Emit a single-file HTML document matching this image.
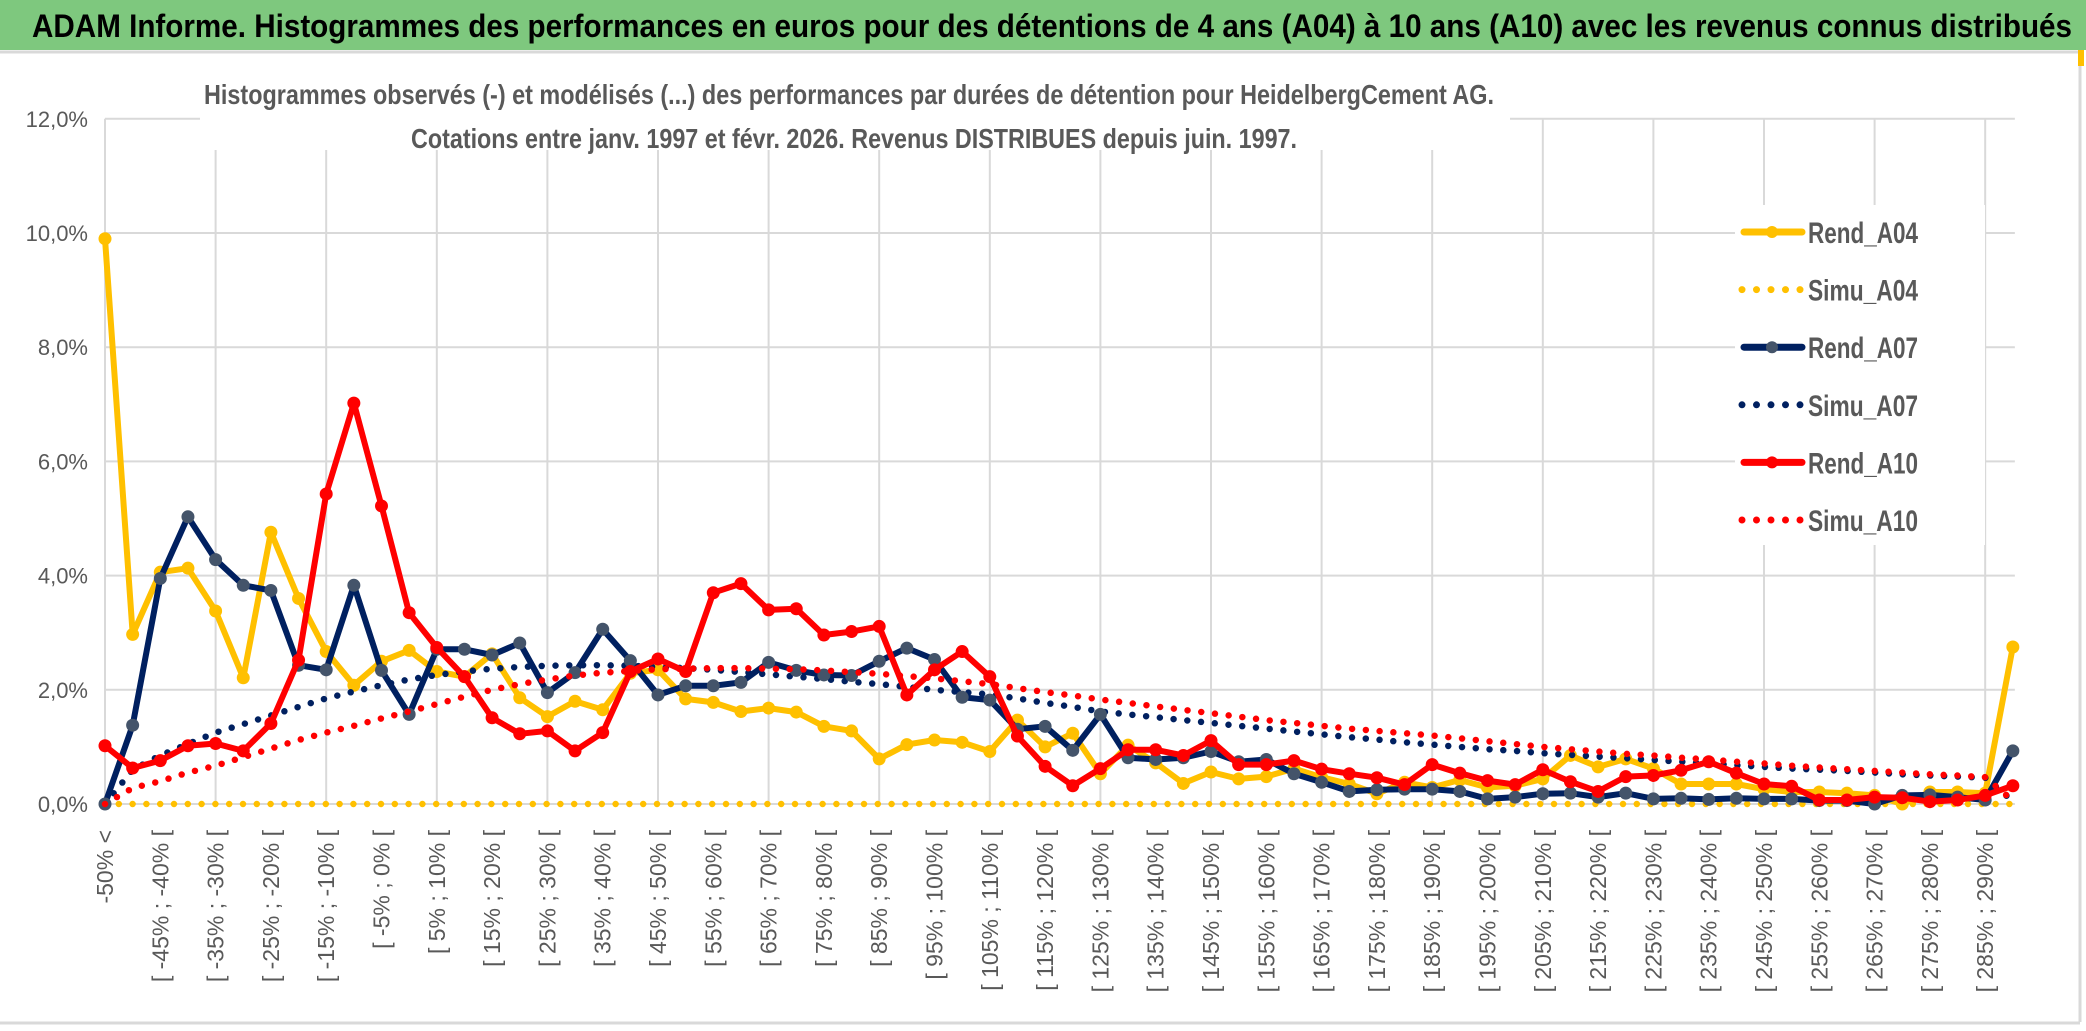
<!DOCTYPE html>
<html><head><meta charset="utf-8">
<style>
html,body{margin:0;padding:0;background:#fff;}
svg{display:block;}
text{font-family:"Liberation Sans Narrow","Liberation Sans",sans-serif;}
</style></head>
<body>
<svg id="chart" width="2086" height="1031" viewBox="0 0 2086 1031" xmlns="http://www.w3.org/2000/svg">
  <rect x="0" y="0" width="2086" height="1031" fill="#fff"/>
  <rect x="0" y="0" width="2086" height="50" fill="#7ec87e"/>
  <text x="32" y="37" font-size="32" font-weight="bold" fill="#000" textLength="2040" lengthAdjust="spacingAndGlyphs">ADAM Informe. Histogrammes des performances en euros pour des détentions de 4 ans (A04) à 10 ans (A10) avec les revenus connus distribués</text>
  <line x1="0" y1="52" x2="2080" y2="52" stroke="#d9d9d9" stroke-width="3"/>
  <line x1="2080" y1="52" x2="2080" y2="1022" stroke="#d9d9d9" stroke-width="3"/>
  <line x1="0" y1="1023" x2="2080" y2="1023" stroke="#d9d9d9" stroke-width="3"/>
  <rect x="2078" y="50" width="6" height="16" fill="#ffc000"/>
  <g id="grid"></g>
  <g id="series"></g>
  <g id="axes"></g>
  <rect x="200" y="58" width="1310" height="92" fill="#fff"/>
  <text x="204" y="104" font-size="28" font-weight="bold" fill="#595959" textLength="1290" lengthAdjust="spacingAndGlyphs">Histogrammes observés (-) et modélisés (...) des performances par durées de détention pour HeidelbergCement AG.</text>
  <text x="411" y="148" font-size="28" font-weight="bold" fill="#595959" textLength="886" lengthAdjust="spacingAndGlyphs">Cotations entre janv. 1997 et févr. 2026. Revenus DISTRIBUES depuis juin. 1997.</text>
  <g id="legend"></g>
</svg>
<script>
const categories = (function(){ const c=["-50% <"]; for(let k=0;k<69;k++){ const a=-50+5*k; c.push("[ "+a+"% ; "+(a+5)+"% ["); } return c; })();
const yTicks = [0,2,4,6,8,10,12];
const yTickLabels = ["0,0%","2,0%","4,0%","6,0%","8,0%","10,0%","12,0%"];
const rendA04 = [9.9,2.97,4.06,4.13,3.38,2.21,4.76,3.6,2.67,2.08,2.5,2.69,2.32,2.23,2.63,1.86,1.53,1.8,1.65,2.29,2.35,1.84,1.78,1.62,1.68,1.61,1.36,1.28,0.79,1.04,1.12,1.08,0.92,1.47,1.0,1.24,0.53,1.03,0.72,0.36,0.56,0.44,0.48,0.62,0.47,0.35,0.18,0.38,0.29,0.42,0.29,0.32,0.44,0.85,0.65,0.79,0.62,0.35,0.35,0.35,0.26,0.21,0.21,0.19,0.15,0.0,0.21,0.21,0.19,2.75];
const rendA07 = [0,1.38,3.95,5.03,4.28,3.83,3.74,2.43,2.35,3.83,2.34,1.57,2.71,2.71,2.61,2.82,1.95,2.3,3.06,2.51,1.91,2.07,2.07,2.13,2.48,2.34,2.26,2.25,2.5,2.73,2.53,1.87,1.82,1.31,1.36,0.94,1.57,0.81,0.78,0.81,0.92,0.74,0.78,0.53,0.38,0.22,0.25,0.26,0.26,0.22,0.09,0.12,0.18,0.19,0.12,0.19,0.09,0.1,0.08,0.1,0.09,0.09,0.06,0.06,0.0,0.15,0.16,0.12,0.07,0.93];
const rendA10 = [1.02,0.63,0.76,1.02,1.06,0.93,1.41,2.52,5.43,7.02,5.22,3.35,2.74,2.23,1.51,1.23,1.28,0.93,1.25,2.32,2.54,2.32,3.7,3.86,3.4,3.42,2.96,3.02,3.11,1.91,2.35,2.67,2.23,1.19,0.66,0.32,0.62,0.95,0.95,0.85,1.11,0.69,0.69,0.76,0.61,0.53,0.46,0.34,0.69,0.54,0.41,0.34,0.6,0.39,0.22,0.48,0.5,0.59,0.74,0.54,0.35,0.31,0.07,0.07,0.12,0.11,0.04,0.07,0.15,0.32];
const simuA04 = [0,0,0,0,0,0,0,0,0,0,0,0,0,0,0,0,0,0,0,0,0,0,0,0,0,0,0,0,0,0,0,0,0,0,0,0,0,0,0,0,0,0,0,0,0,0,0,0,0,0,0,0,0,0,0,0,0,0,0,0,0,0,0,0,0,0,0,0,0,0];
const simuA07 = [0,0.6,0.85,1.05,1.25,1.4,1.55,1.7,1.85,1.97,2.08,2.18,2.26,2.32,2.37,2.4,2.42,2.43,2.43,2.42,2.4,2.38,2.35,2.31,2.27,2.23,2.19,2.14,2.1,2.05,2.0,1.96,1.92,1.85,1.77,1.7,1.62,1.57,1.52,1.47,1.42,1.37,1.32,1.27,1.22,1.17,1.13,1.08,1.04,1.0,0.96,0.93,0.89,0.86,0.83,0.8,0.77,0.74,0.71,0.68,0.65,0.62,0.6,0.58,0.55,0.52,0.5,0.48,0.46,0.05];
const simuA10 = [0,0.28,0.4,0.55,0.67,0.82,0.97,1.12,1.25,1.37,1.5,1.62,1.75,1.88,2.0,2.1,2.18,2.25,2.3,2.33,2.36,2.37,2.38,2.38,2.37,2.36,2.34,2.31,2.28,2.24,2.2,2.15,2.1,2.03,1.96,1.9,1.83,1.77,1.71,1.65,1.59,1.53,1.47,1.42,1.37,1.32,1.28,1.24,1.2,1.15,1.1,1.05,1.0,0.96,0.92,0.88,0.85,0.81,0.78,0.74,0.71,0.67,0.64,0.61,0.58,0.55,0.52,0.5,0.47,0.06];

const NS="http://www.w3.org/2000/svg";
const X0=105, DX=27.65, Y0=804, PERPCT=57.1;
function xs(i){ return X0 + i*DX; }
function ys(v){ return Y0 - v*PERPCT; }
function mk(tag, attrs, parent){ const e=document.createElementNS(NS,tag); for(const k in attrs) e.setAttribute(k,attrs[k]); parent.appendChild(e); return e; }
const grid=document.getElementById('grid'), ser=document.getElementById('series'), axes=document.getElementById('axes'), leg=document.getElementById('legend');
const xEnd = xs(categories.length-1)+2;
yTicks.forEach((t,k)=>{
  const l=mk('line',{x1:X0,x2:xEnd,y1:ys(t),y2:ys(t),stroke:'#d9d9d9','stroke-width':2},grid);
  
  
  const tx=mk('text',{x:88,y:ys(t)+8,'text-anchor':'end','font-size':22,fill:'#595959'},axes);
  tx.textContent=yTickLabels[k];
  
  
});
for(let i=0;i<categories.length;i+=4){
  const l=mk('line',{x1:xs(i),x2:xs(i),y1:ys(12),y2:Y0,stroke:'#d9d9d9','stroke-width':2},grid);
  
  
}
for(let i=0;i<categories.length;i+=2){
  const x=xs(i)+8, y=830;
  const tx=mk('text',{x:x,y:y,'text-anchor':'end','font-size':23,fill:'#595959',transform:'rotate(-90 '+x+' '+y+')'},axes);
  tx.textContent=categories[i];
  
  
}
function pts(arr){ return arr.map((v,i)=>xs(i).toFixed(1)+','+ys(v).toFixed(1)).join(' '); }
function dotted(arr,color,name){
  const p=mk('polyline',{points:pts(arr),fill:'none',stroke:color,'stroke-width':6.5,'stroke-linecap':'round','stroke-dasharray':'0 13.8'},ser);
  
  
}
function solid(arr,color,mcolor,name){
  const p=mk('polyline',{points:pts(arr),fill:'none',stroke:color,'stroke-width':6,'stroke-linejoin':'round'},ser);
  
  
  arr.forEach((v,i)=>{
    const c=mk('circle',{cx:xs(i),cy:ys(v),r:6.5,fill:mcolor},ser);
    
    
  });
}
dotted(simuA04,'#ffc000','simu-a04-line');
solid(rendA04,'#ffc000','#ffc000','rend-a04-line');
dotted(simuA07,'#002060','simu-a07-line');
solid(rendA07,'#002060','#44546a','rend-a07-line');
dotted(simuA10,'#ff0000','simu-a10-line');
solid(rendA10,'#ff0000','#ff0000','rend-a10-line');
const lb=mk('rect',{x:1735,y:205,width:250,height:340,fill:'#fff'},leg);


const legItems=[['Rend_A04','#ffc000','#ffc000',false],['Simu_A04','#ffc000','#ffc000',true],['Rend_A07','#002060','#44546a',false],['Simu_A07','#002060','#002060',true],['Rend_A10','#ff0000','#ff0000',false],['Simu_A10','#ff0000','#ff0000',true]];
legItems.forEach((it,k)=>{
  const y=232+k*57.6;
  const g=mk('g',{},leg);
  
  
  if(it[3]){
    mk('line',{x1:1742,x2:1802,y1:y,y2:y,stroke:it[1],'stroke-width':7,'stroke-linecap':'round','stroke-dasharray':'0 14.5'},g);
  } else {
    mk('line',{x1:1744,x2:1802,y1:y,y2:y,stroke:it[1],'stroke-width':7,'stroke-linecap':'round'},g);
    mk('circle',{cx:1772,cy:y,r:6,fill:it[2]},g);
  }
  const t=mk('text',{x:1808,y:y+11,'font-size':30,'font-weight':'bold',fill:'#595959',textLength:110,lengthAdjust:'spacingAndGlyphs'},g);
  t.textContent=it[0];
});
</script>
</body></html>
